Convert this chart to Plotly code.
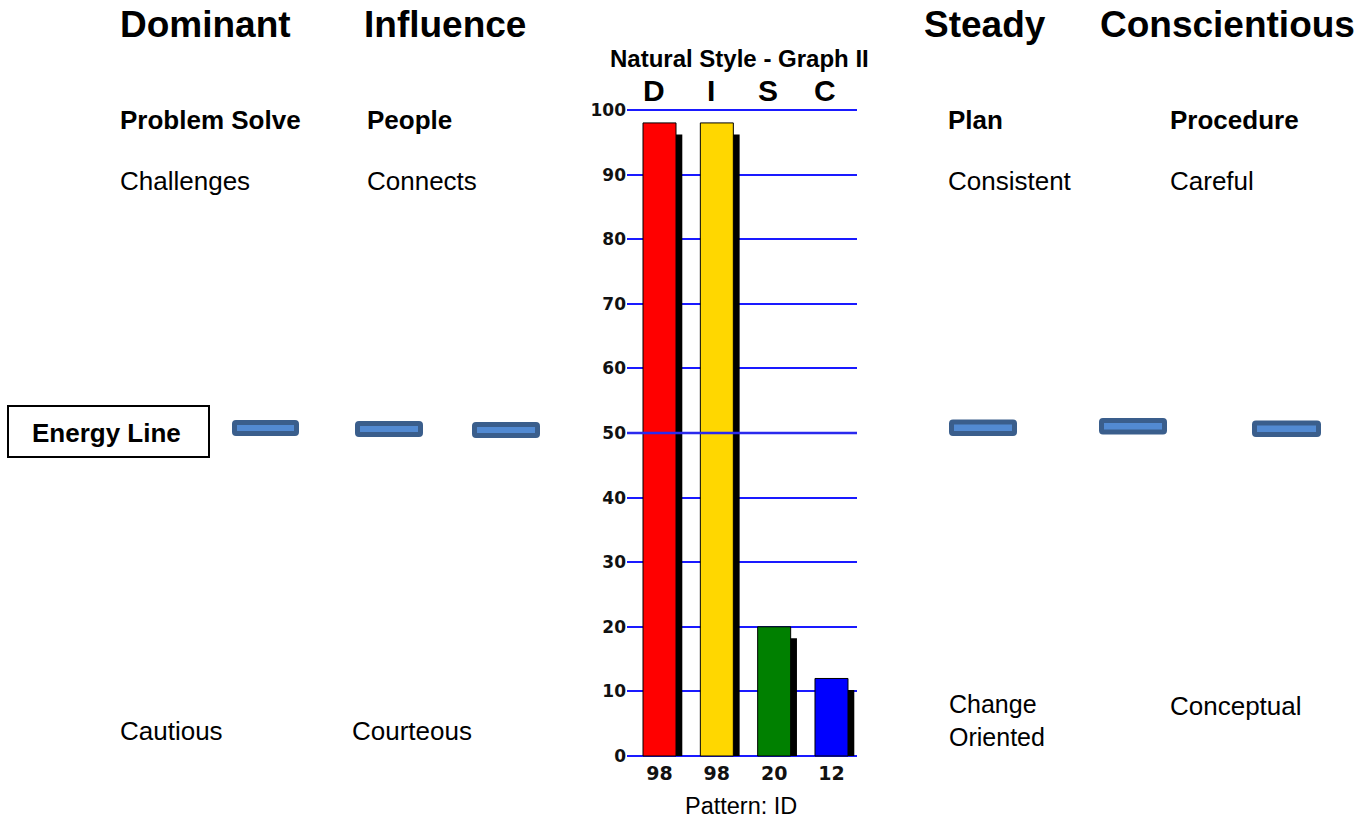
import numpy as np
import plotly.graph_objects as go

# ---------------- data ----------------
letters = ["D", "I", "S", "C"]
scores = [98, 98, 20, 12]
bar_colors = ["#FF0000", "#FFD700", "#008000", "#0000FF"]
y_ticks = list(range(0, 101, 10))

headings = ["Dominant", "Influence", "Steady", "Conscientious"]
focus = ["Problem Solve", "People", "Plan", "Procedure"]
high_traits = ["Challenges", "Connects", "Consistent", "Careful"]
low_traits = ["Cautious", "Courteous", "Change<br>Oriented", "Conceptual"]
chart_title = "Natural Style - Graph II"
pattern_text = "Pattern: ID"
energy_label = "Energy Line"

# ---------------- layout constants (pixels) ----------------
W, H = 1366, 819
heading_x = [119, 363, 923, 1099]
focus_x = [119, 366, 947, 1169]
high_x = [119, 366, 947, 1169]
low_x = [119, 351, 948, 1169]
low_y = [731, 731, 720, 706]
dash_boxes = [(232, 420, 299, 436), (355, 421, 423, 437), (472, 422, 540, 438),
              (949, 419.5, 1017, 436), (1099, 418, 1167, 434.5), (1252, 420.5, 1321, 437)]
energy_box = (8, 406, 209, 457)

# chart geometry in pixels
X_LEFT, X_RIGHT = 627, 857
BAR0_CX, BAR_STEP, BAR_W = 659.5, 57.33, 33
Y0_PX, Y100_PX = 756, 110
SHADOW_DX, SHADOW_DY = 6.3, 11.5

px_per_unit = (Y0_PX - Y100_PX) / 100.0
yr = [-1, 101]
y_dom = [1 - (Y0_PX + px_per_unit) / H, 1 - (Y100_PX - px_per_unit) / H]
xr = [(X_LEFT - BAR0_CX) / BAR_STEP, (X_RIGHT - BAR0_CX) / BAR_STEP]
x_dom = [X_LEFT / W, X_RIGHT / W]
bw = BAR_W / BAR_STEP


def px(x):
    return x / W


def py(y):
    return 1 - y / H


idx = np.arange(len(scores))
shadow_vals = [s - SHADOW_DY / px_per_unit for s in scores]

fig = go.Figure()
fig.add_trace(go.Bar(
    x=idx + SHADOW_DX / BAR_STEP, y=shadow_vals, width=bw,
    marker=dict(color="#000000", line=dict(width=0)),
    hoverinfo="skip", showlegend=False))
fig.add_trace(go.Bar(
    x=idx, y=scores, width=bw,
    marker=dict(color=bar_colors, line=dict(color="#000000", width=1)),
    hoverinfo="skip", showlegend=False))

fig.update_layout(
    template="none",
    width=W, height=H, autosize=False, margin=dict(l=0, r=0, t=0, b=0, pad=0),
    paper_bgcolor="white", plot_bgcolor="white",
    barmode="overlay", showlegend=False,
    xaxis=dict(domain=x_dom, range=xr, tickmode="array", tickvals=list(idx),
               ticktext=[str(s) for s in scores], showgrid=False, zeroline=False,
               showline=False, ticks="", fixedrange=True, automargin=False,
               ticklabelstandoff=-2,
               tickfont=dict(family="DejaVu Sans", size=19, color="#111111", weight="bold")),
    yaxis=dict(domain=y_dom, range=yr, tickmode="array", tickvals=y_ticks,
               showgrid=True, gridcolor="#1a1aff", gridwidth=1.6, zeroline=False,
               showline=False, ticks="", fixedrange=True, automargin=False,
               tickfont=dict(family="DejaVu Sans", size=17, color="#111111", weight="bold")),
)

# thicker line at the 50 mark
fig.add_shape(type="line", xref="x domain", yref="y", x0=0, x1=1, y0=50, y1=50,
              line=dict(color="#2a2aee", width=2.6))

ann = []
font_main = "Liberation Sans, Arial, sans-serif"


def add_text(text, x, y, size, bold=False, xanchor="left"):
    ann.append(dict(text=text, x=px(x), y=py(y), xref="paper", yref="paper",
                    xanchor=xanchor, yanchor="middle", align="left", showarrow=False,
                    borderpad=0,
                    font=dict(family=font_main, size=size, color="#000000",
                              weight="bold" if bold else "normal")))


for t, x in zip(headings, heading_x):
    add_text(t, x, 24.5, 37, bold=True)
for t, x in zip(focus, focus_x):
    add_text(t, x, 119.7, 26, bold=True)
for t, x in zip(high_traits, high_x):
    add_text(t, x, 181.3, 26)
for t, x, y in zip(low_traits, low_x, low_y):
    add_text(t, x, y, 25 if "<br>" in t else 26)

add_text(chart_title, 739.5, 58.8, 24, bold=True, xanchor="center")
add_text(pattern_text, 740.5, 806, 23.5, xanchor="center")
add_text(energy_label, 106, 433, 26, bold=True, xanchor="center")

# D I S C letters above bars
for i, l in enumerate(letters):
    ann.append(dict(text=l, x=i, y=py(90.8), xref="x", yref="paper", xshift=-6,
                    xanchor="center", yanchor="middle", showarrow=False, borderpad=0,
                    font=dict(family=font_main, size=30, color="#000000", weight="bold")))

fig.update_layout(annotations=ann)

# Energy line box
x0, y0, x1, y1 = energy_box
fig.add_shape(type="rect", xref="paper", yref="paper", x0=px(x0), x1=px(x1), y0=py(y1), y1=py(y0),
              line=dict(color="#000000", width=2), fillcolor="rgba(0,0,0,0)")


# energy dashes (rounded bars)
def rounded_path(x0, y0, x1, y1, r):
    pts = [
        f"M {px(x0 + r)},{py(y0)}",
        f"L {px(x1 - r)},{py(y0)}",
        f"Q {px(x1)},{py(y0)} {px(x1)},{py(y0 + r)}",
        f"L {px(x1)},{py(y1 - r)}",
        f"Q {px(x1)},{py(y1)} {px(x1 - r)},{py(y1)}",
        f"L {px(x0 + r)},{py(y1)}",
        f"Q {px(x0)},{py(y1)} {px(x0)},{py(y1 - r)}",
        f"L {px(x0)},{py(y0 + r)}",
        f"Q {px(x0)},{py(y0)} {px(x0 + r)},{py(y0)}",
        "Z",
    ]
    return " ".join(pts)


for (a, b, c, d) in dash_boxes:
    lw = 5
    fig.add_shape(type="path", xref="paper", yref="paper",
                  path=rounded_path(a + lw / 2, b + lw / 2, c - lw / 2, d - lw / 2, 1.5),
                  line=dict(color="#3A5E8C", width=lw), fillcolor="#528AD2")

post = ("document.documentElement.style.margin='0';"
        "document.documentElement.style.overflow='hidden';"
        "document.body.style.margin='0';"
        "document.body.style.overflow='hidden';")
fig.write_html("out.html", post_script=post, config={"displayModeBar": False})
